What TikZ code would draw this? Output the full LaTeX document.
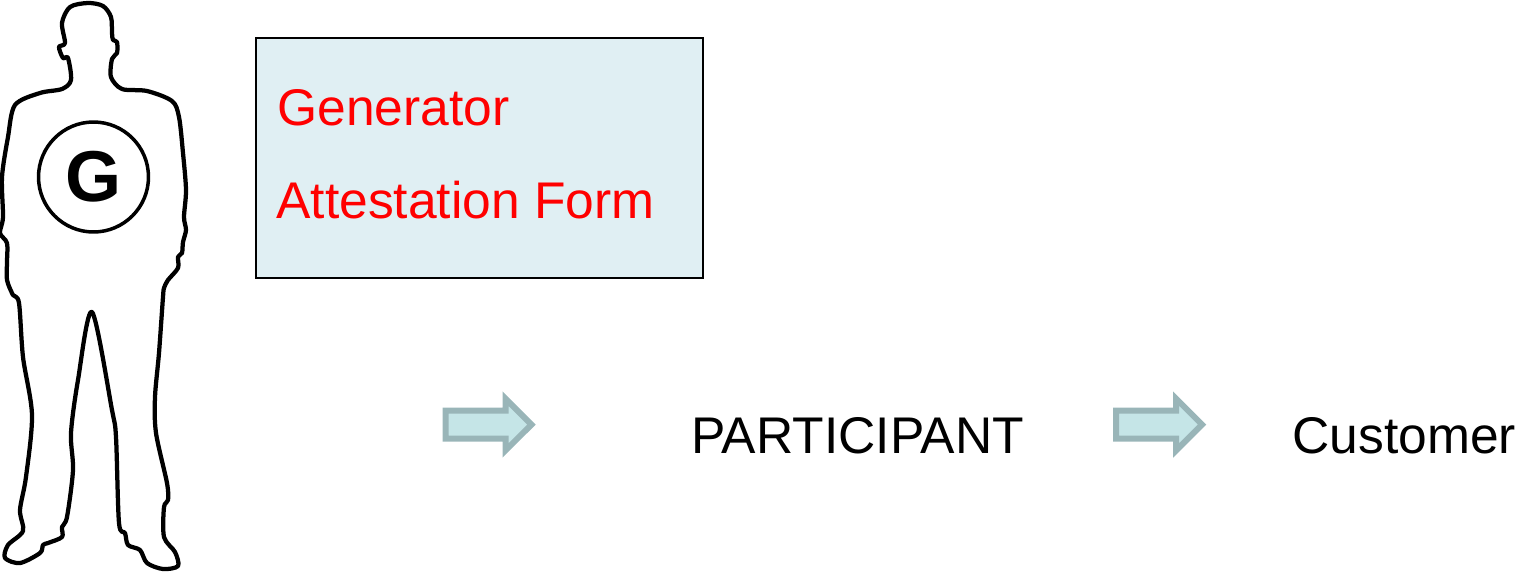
\documentclass[tikz,border=0pt]{standalone}
\usepackage{fontspec}
\setmainfont{Liberation Sans}
\usetikzlibrary{shapes.arrows}
\definecolor{boxfill}{HTML}{E0EFF3}
\definecolor{arrowfill}{HTML}{C5E5E7}
\definecolor{arrowline}{HTML}{99B5B8}
\tikzset{
	label/.style={anchor=base west, inner sep=0pt, font=\fontsize{29.35}{35}\selectfont},
	fatarrow/.style={single arrow, draw=arrowline, fill=arrowfill, line width=0.12cm, miter limit=10, inner xsep=0pt, inner ysep=0.22cm, outer sep=0pt, minimum height=1.72cm, single arrow head extend=0.24cm, single arrow tip angle=90},
	outline/.style={draw=black, line width=0.085cm, line join=round}
}
\begin{document}
\begin{tikzpicture}[x=0.02cm,y=-0.02cm]
	\useasboundingbox (0,0) rectangle (1517,572);
	% man
	\draw[outline] plot[smooth cycle, tension=0.5] coordinates {
		(88,3) (103,6) (111,17) (112,33) (113,40) (117,42) (117,53) (112,59)
		(111,77) (122,89) (147,91) (172,101) (179,117) (183,153) (186,190) (184,217)
		(186,230) (183,242) (182,253) (178,257) (178,268) (168,280) (164,288) (163,297)
		(159,353) (155,397) (156,433) (167,483) (168,500) (164,507) (164,537) (175,552)
		(178,566) (163,569) (147,563) (140,550) (128,545) (125,533) (119,523) (116,437)
		(112,410) (92,312) (78,380) (71,433) (73,470) (67,517) (62,527) (62,537)
		(48,543) (43,545) (40,553) (20,563) (5,558) (8,545) (23,531) (20,510)
		(26,477) (32,415) (23,357) (19,303) (13,295) (7,280) (7,262) (7,243)
		(0,233) (3,217) (2,177) (8,137) (15,105) (40,93) (62,89)
		(71,80) (68,58) (63,58) (59,47) (65,43) (62,23) (70,7)};
	\node[circle, draw=black, line width=0.07cm, minimum size=2.2cm, inner sep=0pt, font=\fontsize{41}{50}\selectfont\bfseries] (badge) at (93.5,177) {G};
	% form
	\filldraw[fill=boxfill, draw=black, line width=0.04cm] (256,38) rectangle (703,278);
	\node[label, text=red] (generator) at (277,125) {Generator};
	\node[label, text=red] (attestation) at (276,218) {Attestation Form};
	% bottom row
	\node[fatarrow] (arrowa) at (481.5,424.5) {};
	\node[label] (participant) at (691,453) {PARTICIPANT};
	\node[fatarrow] (arrowb) at (1152,424.5) {};
	\node[label] (customer) at (1292,453) {Customer};
\end{tikzpicture}
\end{document}
